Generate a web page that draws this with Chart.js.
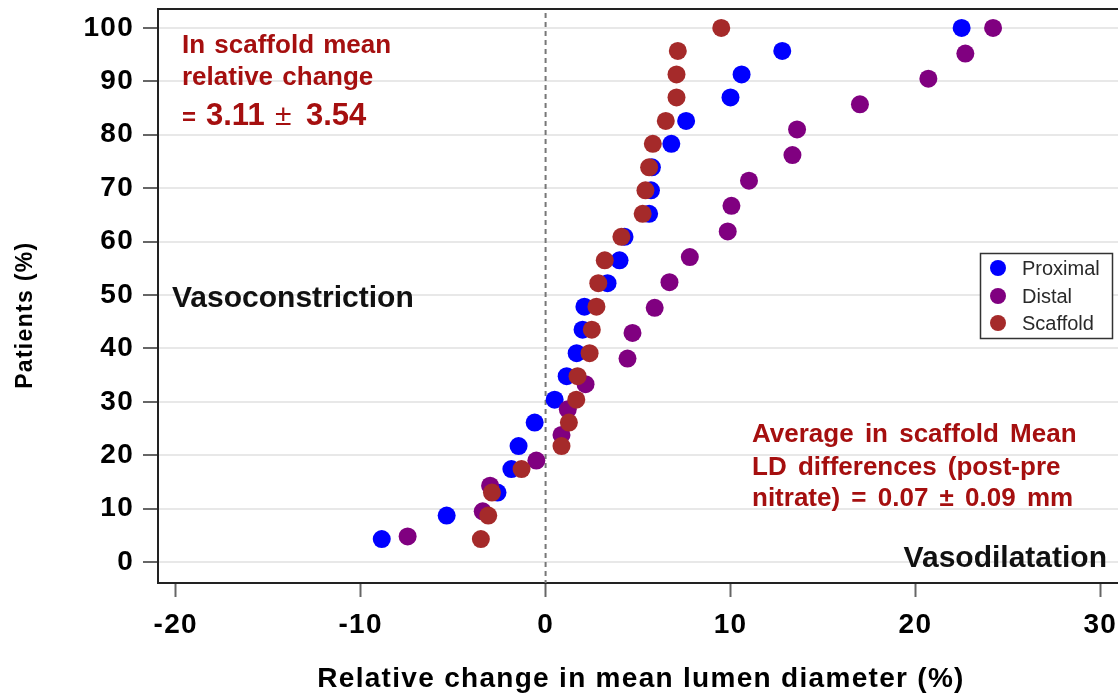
<!DOCTYPE html>
<html>
<head>
<meta charset="utf-8">
<script src="https://cdn.jsdelivr.net/npm/chart.js@4"></script>
<style>
  html, body { margin: 0; padding: 0; background: #fff; overflow: hidden; }
  canvas { display: block; }
</style>
</head>
<body>
<canvas id="chart-cdf" width="1150" height="697"></canvas>
<script>
// cumulative share of patients (%) - 23 proximal/scaffold segments, 21 distal
const patientsPct23 = [4.3, 8.7, 13.0, 17.4, 21.7, 26.1, 30.4, 34.8, 39.1, 43.5, 47.8, 52.2,
                       56.5, 60.9, 65.2, 69.6, 73.9, 78.3, 82.6, 87.0, 91.3, 95.7, 100];
const patientsPct21 = [4.8, 9.5, 14.3, 19.0, 23.8, 28.6, 33.3, 38.1, 42.9, 47.6, 52.4,
                       57.1, 61.9, 66.7, 71.4, 76.2, 81.0, 85.7, 90.5, 95.2, 100];

// relative change in mean lumen diameter (%)
const proximalChange = [-8.86, -5.35, -2.6, -1.85, -1.46, -0.59, 0.49, 1.14, 1.68, 2.0, 2.1, 3.35,
                        4.0, 4.27, 5.6, 5.7, 5.75, 6.8, 7.6, 10.0, 10.6, 12.8, 22.5];
const distalChange = [-7.46, -3.4, -3.0, -0.5, 0.86, 1.2, 2.16, 4.43, 4.7, 5.9, 6.7,
                      7.8, 9.85, 10.05, 11.0, 13.35, 13.6, 17.0, 20.7, 22.7, 24.2];
const scaffoldChange = [-3.5, -3.1, -2.9, -1.3, 0.86, 1.26, 1.66, 1.73, 2.38, 2.5, 2.75, 2.85,
                        3.2, 4.1, 5.25, 5.4, 5.6, 5.8, 6.5, 7.08, 7.08, 7.15, 9.5];

const xTicks = [-20, -10, 0, 10, 20, 30];
const yTicks = [0, 10, 20, 30, 40, 50, 60, 70, 80, 90, 100];

const noteRed = '#a50f0f';
const arial = '"Liberation Sans", Arial, sans-serif';

function pts(xs, ys) {
  return xs.map((x, i) => ({x: x, y: ys[i]}));
}

// the source figure's axis text is a bit wider than Arial, spread it a little
const wideText = {
  id: 'wideText',
  beforeUpdate(chart) { chart.ctx.letterSpacing = '1.3px'; },
  beforeDraw(chart) { chart.ctx.letterSpacing = '1.3px'; }
};

// dashed line at zero + top frame line
const frameLines = {
  id: 'frameLines',
  beforeDatasetsDraw(chart) {
    const {ctx, chartArea, scales} = chart;
    const x0 = scales.x.getPixelForValue(0);
    ctx.save();
    ctx.strokeStyle = '#777';
    ctx.lineWidth = 2;
    ctx.setLineDash([5, 4]);
    ctx.beginPath();
    ctx.moveTo(x0, chartArea.top + 4);
    ctx.lineTo(x0, chartArea.bottom);
    ctx.stroke();
    ctx.setLineDash([]);
    ctx.strokeStyle = '#222';
    ctx.beginPath();
    ctx.moveTo(chartArea.left, chartArea.top);
    ctx.lineTo(chartArea.right, chartArea.top);
    ctx.stroke();
    ctx.restore();
  }
};

const notes = {
  id: 'notes',
  afterDatasetsDraw(chart) {
    const ctx = chart.ctx;
    ctx.save();
    ctx.letterSpacing = '0px';
    ctx.textBaseline = 'alphabetic';
    ctx.textAlign = 'left';
    ctx.fillStyle = noteRed;
    ctx.font = 'bold 26px ' + arial;
    ctx.wordSpacing = '2px';
    ctx.fillText('In scaffold mean', 182, 53);
    ctx.fillText('relative change', 182, 85);
    ctx.font = 'bold 24px ' + arial;
    ctx.fillText('=', 182, 125);
    ctx.font = 'bold 31px ' + arial;
    ctx.fillText('3.11', 206, 125);
    ctx.fillText('3.54', 306, 125);
    ctx.font = '30px ' + arial;
    ctx.fillText('\u00b1', 275, 125);

    ctx.font = 'bold 26px ' + arial;
    ctx.wordSpacing = '4px';
    ctx.fillText('Average in scaffold Mean', 752, 442);
    ctx.fillText('LD differences (post-pre', 752, 475);
    ctx.fillText('nitrate) = 0.07 \u00b1 0.09 mm', 752, 506);

    ctx.wordSpacing = '0px';
    ctx.fillStyle = '#111';
    ctx.font = 'bold 30px ' + arial;
    ctx.fillText('Vasoconstriction', 172, 307);
    ctx.textAlign = 'right';
    ctx.fillText('Vasodilatation', 1107, 567);
    ctx.restore();
  }
};

const boxLegend = {
  id: 'boxLegend',
  afterDraw(chart) {
    const ctx = chart.ctx;
    const rows = [268, 296, 323];
    ctx.save();
    ctx.letterSpacing = '0px';
    ctx.fillStyle = '#fff';
    ctx.fillRect(980, 253, 132, 85);
    ctx.strokeStyle = '#333';
    ctx.lineWidth = 1.5;
    ctx.strokeRect(980.5, 253.5, 132, 85);
    ctx.font = '20px ' + arial;
    ctx.textBaseline = 'middle';
    chart.data.datasets.forEach((ds, i) => {
      ctx.fillStyle = ds.backgroundColor;
      ctx.beginPath();
      ctx.arc(998, rows[i], 8, 0, Math.PI * 2);
      ctx.fill();
      ctx.fillStyle = '#2a2a2a';
      ctx.fillText(ds.label, 1022, rows[i] + 1);
    });
    ctx.restore();
  }
};

const tickFont = {family: arial, weight: 'bold', size: 28};

let ctx = document.getElementById('chart-cdf');
let cdfChart = new Chart(ctx, {
  type: 'scatter',
  data: {
    datasets: [
      {label: 'Proximal', data: pts(proximalChange, patientsPct23), backgroundColor: '#0000ff', order: 2},
      {label: 'Distal', data: pts(distalChange, patientsPct21), backgroundColor: '#800080', order: 1},
      {label: 'Scaffold', data: pts(scaffoldChange, patientsPct23), backgroundColor: '#a52a2a', order: 0}
    ]
  },
  options: {
    responsive: false,
    animation: false,
    layout: {padding: {top: 8, right: 26, left: 0, bottom: 0}},
    elements: {point: {radius: 9, hoverRadius: 9, borderWidth: 0}},
    plugins: {legend: {display: false}, tooltip: {enabled: false}},
    scales: {
      x: {
        type: 'linear',
        min: -20.96,
        max: 31.28,
        afterBuildTicks: s => { s.ticks = xTicks.map(v => ({value: v})); },
        afterFit: s => { s.height = 114; s.paddingLeft = 0; s.paddingRight = 0; },
        grid: {drawOnChartArea: false, tickLength: 14, tickWidth: 2, tickColor: '#666'},
        border: {color: '#222', width: 2},
        ticks: {color: '#000', padding: 11, font: tickFont},
        title: {
          display: true,
          text: 'Relative change in mean lumen diameter (%)',
          color: '#000',
          font: {family: arial, weight: 'bold', size: 28},
          padding: {top: 0, bottom: 1}
        }
      },
      y: {
        type: 'linear',
        min: -3.93,
        max: 103.55,
        afterBuildTicks: s => { s.ticks = yTicks.map(v => ({value: v})); },
        afterFit: s => { s.width = 158; s.paddingTop = 0; s.paddingBottom = 0; },
        grid: {color: '#e8e8e8', lineWidth: 2, tickLength: 15, tickWidth: 2, tickColor: '#666'},
        border: {color: '#222', width: 2},
        ticks: {color: '#000', padding: 9, font: tickFont},
        title: {
          display: true,
          text: 'Patients (%)     ',
          color: '#000',
          font: {family: arial, weight: 'bold', size: 23},
          padding: {top: 12, bottom: 0}
        }
      }
    }
  },
  plugins: [wideText, frameLines, notes, boxLegend]
});
</script>
</body>
</html>
